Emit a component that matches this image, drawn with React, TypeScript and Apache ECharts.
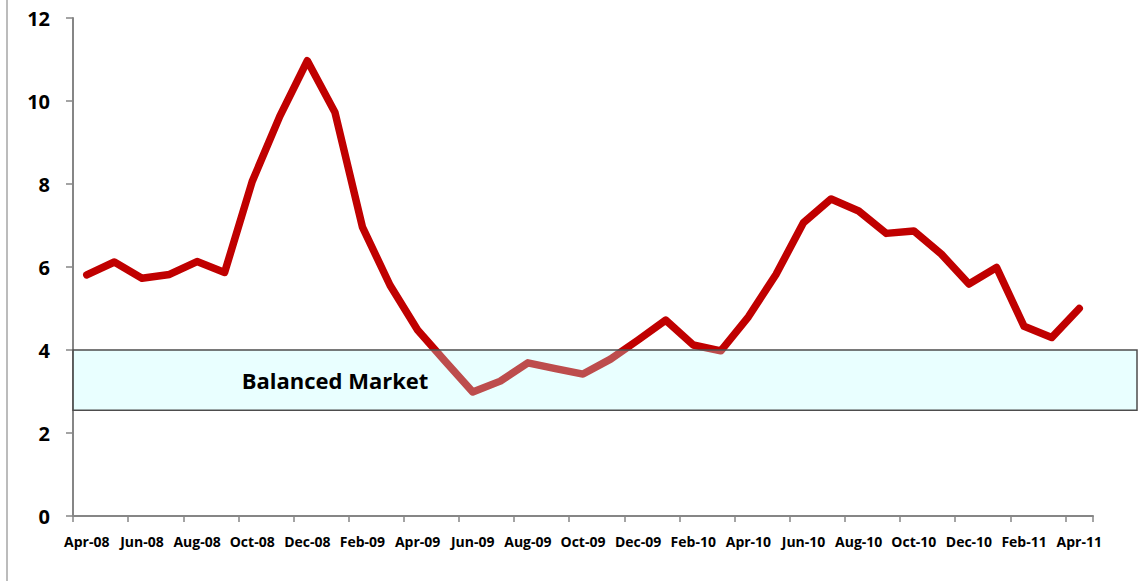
import React, { useEffect, useRef } from "react";
import * as echarts from "echarts";

const months = [
  "Apr-08", "May-08", "Jun-08", "Jul-08", "Aug-08", "Sep-08", "Oct-08", "Nov-08", "Dec-08",
  "Jan-09", "Feb-09", "Mar-09", "Apr-09", "May-09", "Jun-09", "Jul-09", "Aug-09", "Sep-09",
  "Oct-09", "Nov-09", "Dec-09", "Jan-10", "Feb-10", "Mar-10", "Apr-10", "May-10", "Jun-10",
  "Jul-10", "Aug-10", "Sep-10", "Oct-10", "Nov-10", "Dec-10", "Jan-11", "Feb-11", "Mar-11",
  "Apr-11",
];

const values = [
  5.81, 6.12, 5.73, 5.82, 6.13, 5.87, 8.06, 9.63, 10.97,
  9.73, 6.96, 5.56, 4.48, 3.73, 2.99, 3.25, 3.69, 3.55,
  3.42, 3.78, 4.24, 4.72, 4.12, 3.98, 4.8, 5.82, 7.07,
  7.64, 7.35, 6.81, 6.87, 6.31, 5.59, 5.99, 4.57, 4.3,
  5.0,
];

const yTicks = [0, 2, 4, 6, 8, 10, 12];

const bandLow = 2.55;
const bandHigh = 4;
const bandLabel = "Balanced Market";

const W = 1143;
const H = 581;
const GRID_LEFT = 73;
const GRID_RIGHT = 50;
const BOX_RIGHT = 1137;
const FONT = "'Open Sans', 'DejaVu Sans', sans-serif";

export default function App() {
  const ref = useRef<HTMLDivElement>(null);

  useEffect(() => {
    if (!ref.current) return;
    const chart = echarts.init(ref.current, null, { renderer: "svg", width: W, height: H });
    chart.setOption({
      animation: false,
      backgroundColor: "#ffffff",
      grid: { left: GRID_LEFT, right: GRID_RIGHT, top: 18, bottom: 65, containLabel: false },
      xAxis: {
        type: "category",
        data: months,
        boundaryGap: true,
        axisLine: { show: true, lineStyle: { color: "#868686", width: 2 } },
        axisTick: { show: true, interval: 1, length: 6, lineStyle: { color: "#868686", width: 1.5 } },
        axisLabel: {
          interval: 1,
          margin: 18,
          color: "#000",
          fontFamily: FONT,
          fontWeight: "bold",
          fontSize: 14,
        },
        splitLine: { show: false },
      },
      yAxis: {
        type: "value",
        min: yTicks[0],
        max: yTicks[yTicks.length - 1],
        interval: 2,
        axisLine: { show: true, lineStyle: { color: "#868686", width: 2 } },
        axisTick: { show: true, length: 7, lineStyle: { color: "#868686", width: 1.5 } },
        axisLabel: {
          margin: 23,
          color: "#000",
          fontFamily: FONT,
          fontWeight: "bold",
          fontSize: 20,
        },
        splitLine: { show: false },
      },
      series: [
        {
          type: "line",
          data: values,
          showSymbol: false,
          symbol: "none",
          z: 2,
          lineStyle: { color: "#C00000", width: 7.5, cap: "round", join: "round" },
        },
      ],
    });

    const yTop = chart.convertToPixel({ yAxisIndex: 0 }, bandHigh) as number;
    const yBot = chart.convertToPixel({ yAxisIndex: 0 }, bandLow) as number;

    chart.setOption({
      graphic: [
        {
          type: "line",
          shape: { x1: 7, y1: 0, x2: 7, y2: H },
          style: { stroke: "#a6a6a6", lineWidth: 1.5 },
          z: 1,
        },
        {
          type: "rect",
          shape: { x: GRID_LEFT, y: yTop, width: BOX_RIGHT - GRID_LEFT, height: yBot - yTop },
          style: { fill: "rgba(182,255,255,0.3)", stroke: "#4d4d4d", lineWidth: 1.5 },
          z: 100,
        },
        {
          type: "text",
          x: GRID_LEFT + 262,
          y: (yTop + yBot) / 2,
          style: {
            text: bandLabel,
            fill: "#000",
            font: `bold 22px ${FONT}`,
            align: "center",
            verticalAlign: "middle",
          },
          z: 101,
        },
      ],
    });

    return () => chart.dispose();
  }, []);

  return (
    <div
      ref={ref}
      style={{ position: "fixed", left: 0, top: 0, width: W, height: H, background: "#fff" }}
    />
  );
}
